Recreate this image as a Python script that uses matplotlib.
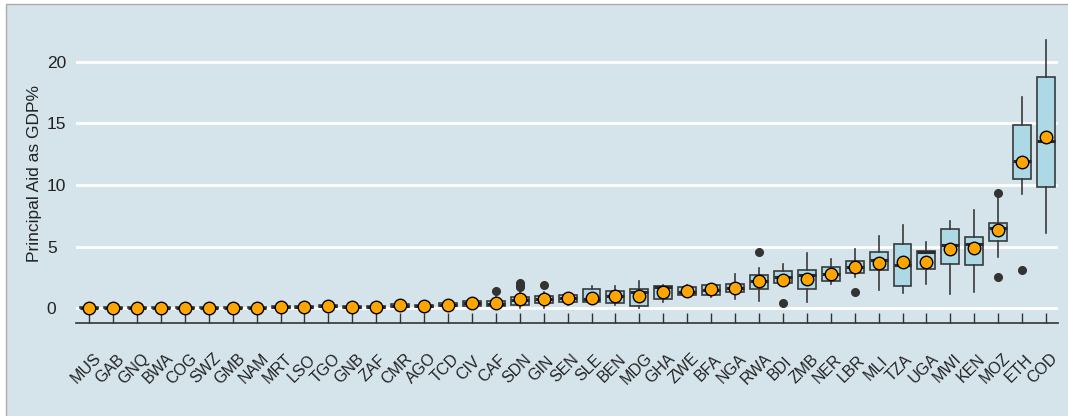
import matplotlib
matplotlib.use("Agg")
import matplotlib.pyplot as plt
import matplotlib.transforms as mtransforms
from matplotlib.patches import Rectangle

plt.rcParams['font.family'] = ['Liberation Sans', 'DejaVu Sans']

# per-country distribution of aid as % of GDP, sorted by mean
countries = ['MUS', 'GAB', 'GNQ', 'BWA', 'COG', 'SWZ', 'GMB', 'NAM', 'MRT', 'LSO',
             'TGO', 'GNB', 'ZAF', 'CMR', 'AGO', 'TCD', 'CIV', 'CAF', 'SDN', 'GIN',
             'SEN', 'SLE', 'BEN', 'MDG', 'GHA', 'ZWE', 'BFA', 'NGA', 'RWA', 'BDI',
             'ZMB', 'NER', 'LBR', 'MLI', 'TZA', 'UGA', 'MWI', 'KEN', 'MOZ', 'ETH', 'COD']
means = [0.02, 0.03, 0.03, 0.03, 0.03, 0.03, 0.03, 0.03, 0.08, 0.08,
         0.19, 0.08, 0.08, 0.24, 0.19, 0.30, 0.41, 0.42, 0.75, 0.75,
         0.86, 0.86, 1.00, 1.00, 1.32, 1.40, 1.54, 1.62, 2.19, 2.30,
         2.40, 2.78, 3.32, 3.67, 3.78, 3.78, 4.78, 4.87, 6.35, 11.84, 13.89]
q1 = [0.0, 0.0, 0.0, 0.0, 0.0, 0.0, 0.0, 0.0, 0.02, 0.02,
      0.08, 0.02, 0.02, 0.10, 0.08, 0.18, 0.20, 0.22, 0.27, 0.41,
      0.52, 0.52, 0.46, 0.19, 0.73, 1.05, 1.11, 1.30, 1.54, 2.03,
      1.59, 2.21, 2.84, 3.08, 1.83, 3.19, 3.57, 3.51, 5.46, 10.51, 9.84]
medians = [0.02, 0.02, 0.02, 0.02, 0.02, 0.02, 0.02, 0.02, 0.07, 0.07,
           0.17, 0.07, 0.07, 0.20, 0.18, 0.28, 0.40, 0.38, 0.70, 0.72,
           0.85, 0.75, 1.00, 1.32, 1.76, 1.35, 1.50, 1.67, 2.19, 2.51,
           2.70, 2.81, 3.38, 3.92, 3.49, 4.55, 5.16, 5.19, 6.49, 11.97, 13.59]
q3 = [0.10, 0.10, 0.10, 0.10, 0.10, 0.10, 0.10, 0.10, 0.15, 0.15,
      0.25, 0.15, 0.15, 0.32, 0.28, 0.42, 0.57, 0.62, 0.94, 1.00,
      1.06, 1.54, 1.38, 1.54, 1.81, 1.70, 1.87, 2.00, 2.68, 3.03,
      3.11, 3.32, 3.81, 4.57, 5.24, 4.65, 6.46, 5.81, 6.94, 14.87, 18.78]
whisk_lo = [0.0, 0.0, 0.0, 0.0, 0.0, 0.0, 0.0, 0.0, 0.0, 0.0,
            0.0, 0.0, 0.0, 0.0, 0.0, 0.05, 0.05, 0.0, 0.05, 0.0,
            0.30, 0.45, 0.30, 0.05, 0.50, 0.90, 0.90, 0.73, 0.59, 1.90,
            0.49, 1.95, 2.51, 1.48, 1.27, 1.95, 1.13, 1.35, 4.19, 9.25, 6.13]
whisk_hi = [0.15, 0.20, 0.20, 0.20, 0.20, 0.20, 0.20, 0.20, 0.25, 0.25,
            0.35, 0.25, 0.25, 0.50, 0.40, 0.55, 0.70, 0.90, 1.30, 1.30,
            1.25, 1.81, 1.81, 2.24, 1.90, 1.85, 1.95, 2.81, 3.24, 3.57,
            4.51, 4.02, 4.81, 5.84, 6.73, 5.38, 7.05, 7.95, 9.10, 17.16, 21.76]
outliers = {
    'CAF': [1.43],
    'SDN': [1.72, 1.88, 2.02],
    'GIN': [1.90],
    'RWA': [4.57],
    'BDI': [0.41],
    'LBR': [1.32],
    'MOZ': [9.38, 2.56],
    'ETH': [3.11],
}

bg = '#d5e4eb'
ink = '#3a3a3a'

fig = plt.figure(figsize=(10.68, 4.16), dpi=100)
fig.patch.set_facecolor('white')
fig.patches.append(Rectangle((6 / 1068, -0.01), 1.0, 412 / 416 + 0.01,
                             transform=fig.transFigure, facecolor=bg,
                             edgecolor='#aaaaaa', linewidth=1, zorder=-10))

ax = fig.add_axes([76 / 1068, 1 - 322.7 / 416, 982 / 1068, 298 / 416])
ax.set_facecolor(bg)

stats = []
for i, c in enumerate(countries):
    stats.append(dict(label=c, mean=means[i], q1=q1[i], med=medians[i], q3=q3[i],
                      whislo=whisk_lo[i], whishi=whisk_hi[i],
                      fliers=outliers.get(c, [])))

pos = list(range(len(countries)))
ax.bxp(stats, positions=pos, widths=0.75, patch_artist=True, showcaps=False,
       boxprops=dict(facecolor='#add8e6', edgecolor=ink, linewidth=1.2),
       medianprops=dict(color='#2b2b2b', linewidth=2.2),
       whiskerprops=dict(color=ink, linewidth=1.2),
       flierprops=dict(marker='o', markerfacecolor='#333333',
                       markeredgecolor='#333333', markersize=5.5))
ax.plot(pos, means, 'o', color='orange', markeredgecolor='black',
        markersize=9, markeredgewidth=1, zorder=5)

ax.set_xlim(-0.55, 40.5)
ax.set_ylim(-1.17, 23)
ax.set_yticks([0, 5, 10, 15, 20])
ax.grid(axis='y', color='white', linewidth=2)
ax.set_axisbelow(True)

for s in ['left', 'top', 'right']:
    ax.spines[s].set_visible(False)
ax.spines['bottom'].set_color('#333333')
ax.spines['bottom'].set_linewidth(1.2)

ax.tick_params(axis='x', direction='in', length=7.2, width=1, color='#333333',
               pad=33, labelsize=11.5, labelcolor='#222222')
ax.tick_params(axis='y', length=0, pad=21, labelsize=12.5, labelcolor='#222222')

ax.set_xticks(pos)
ax.set_xticklabels(countries)
shift = mtransforms.ScaledTranslation(-3 / 100, 0, fig.dpi_scale_trans)
for lbl in ax.get_xticklabels():
    lbl.set_rotation(45)
    lbl.set_ha('center')
    lbl.set_va('center')
    lbl.set_transform(lbl.get_transform() + shift)
for lbl in ax.get_yticklabels():
    lbl.set_ha('left')

ax.set_ylabel('Principal Aid as GDP%', fontsize=12.5, color='#222222')
ax.yaxis.set_label_coords(-0.035, 0.5)

fig.savefig('out.png', dpi=100)
